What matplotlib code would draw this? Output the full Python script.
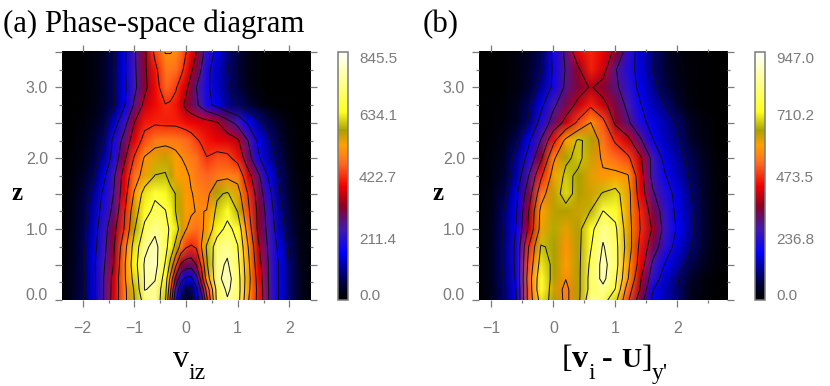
import matplotlib
matplotlib.use('Agg')
import matplotlib.pyplot as plt
import numpy as np
from matplotlib.colors import LinearSegmentedColormap, Normalize
from matplotlib.cm import ScalarMappable
from matplotlib.image import NonUniformImage
from matplotlib.ticker import FixedLocator

plt.rcParams['font.family'] = ['Liberation Sans', 'DejaVu Sans']

z = [0.0, 0.15, 0.3, 0.5, 0.75, 1.0, 1.25, 1.5, 1.75, 2.0, 2.25, 2.5, 2.75, 3.0, 3.25, 3.5]

# panel a, one row per z value
va = [-2.4, -2.2, -2.0, -1.8, -1.6, -1.4, -1.2, -1.0, -0.8, -0.6, -0.4, -0.3, -0.2, -0.1, 0.0,
      0.1, 0.2, 0.3, 0.4, 0.6, 0.8, 1.0, 1.2, 1.4, 1.6, 1.8, 2.0, 2.2, 2.4]
fa = [
    [8, 30, 72, 140, 250, 375, 480, 592, 715, 750, 600, 400, 190, 90, 20, 60, 130, 210, 400, 700, 755, 715, 515, 400, 254, 165, 85, 30, 8],
    [8, 30, 72, 145, 250, 370, 480, 600, 765, 745, 620, 440, 230, 120, 70, 80, 150, 280, 450, 705, 775, 720, 530, 400, 254, 165, 85, 30, 8],
    [8, 30, 72, 145, 250, 365, 490, 620, 765, 765, 640, 480, 320, 200, 150, 150, 220, 380, 540, 740, 790, 715, 540, 390, 250, 165, 85, 30, 8],
    [7, 28, 72, 150, 240, 340, 490, 640, 770, 790, 670, 570, 440, 330, 300, 290, 340, 440, 580, 740, 770, 700, 530, 370, 250, 165, 85, 28, 8],
    [6, 26, 70, 140, 225, 330, 470, 625, 745, 785, 700, 640, 570, 480, 430, 415, 430, 510, 600, 720, 745, 680, 510, 350, 240, 150, 75, 25, 6],
    [5, 25, 65, 130, 215, 315, 423, 585, 695, 745, 700, 665, 630, 560, 510, 485, 470, 495, 530, 640, 700, 650, 470, 320, 230, 125, 60, 20, 5],
    [4, 22, 60, 120, 195, 275, 410, 555, 650, 695, 680, 640, 590, 555, 530, 515, 505, 505, 510, 610, 650, 590, 440, 320, 215, 110, 50, 15, 4],
    [3, 18, 50, 105, 180, 255, 385, 515, 625, 665, 640, 615, 590, 550, 520, 510, 500, 490, 480, 580, 600, 540, 420, 300, 195, 95, 40, 12, 3],
    [2, 12, 35, 75, 150, 240, 370, 470, 540, 595, 600, 565, 530, 525, 520, 500, 480, 470, 460, 480, 490, 480, 370, 270, 160, 85, 30, 8, 2],
    [1, 7, 22, 55, 110, 195, 320, 430, 515, 545, 560, 545, 530, 510, 495, 485, 470, 445, 425, 445, 440, 400, 290, 180, 115, 70, 22, 6, 1],
    [1, 5, 15, 40, 85, 185, 280, 380, 445, 480, 485, 483, 480, 473, 465, 450, 430, 415, 400, 385, 375, 350, 254, 155, 100, 50, 15, 4, 1],
    [1, 3, 10, 25, 60, 135, 220, 338, 405, 415, 410, 410, 410, 403, 395, 388, 380, 375, 370, 345, 290, 230, 160, 105, 65, 30, 10, 3, 1],
    [1, 2, 6, 18, 42, 78, 160, 265, 360, 395, 420, 415, 400, 360, 320, 295, 270, 230, 190, 150, 100, 85, 50, 22, 8, 3, 1, 0, 0],
    [1, 2, 5, 16, 38, 80, 150, 235, 320, 395, 460, 450, 430, 395, 355, 305, 254, 220, 185, 130, 95, 60, 25, 8, 3, 1, 0, 0, 0],
    [1, 2, 5, 15, 38, 80, 155, 240, 325, 405, 480, 480, 470, 440, 400, 350, 305, 250, 190, 130, 90, 50, 20, 7, 3, 1, 0, 0, 0],
    [1, 2, 5, 15, 38, 78, 150, 245, 325, 440, 510, 510, 500, 465, 425, 385, 340, 280, 215, 150, 95, 55, 22, 8, 3, 1, 0, 0, 0],
]

# panel b
vb = [-1.2, -1.0, -0.8, -0.6, -0.4, -0.2, 0.0, 0.2, 0.4, 0.6, 0.8, 1.0, 1.2, 1.4,
      1.6, 1.8, 2.0, 2.2, 2.4, 2.6, 2.8]
fb = [
    [5, 30, 95, 185, 510, 700, 640, 545, 640, 830, 800, 690, 490, 330, 175, 135, 95, 30, 14, 5, 1],
    [5, 32, 95, 190, 510, 740, 625, 545, 640, 790, 830, 755, 520, 375, 195, 140, 95, 35, 16, 6, 1],
    [5, 35, 100, 200, 520, 730, 640, 570, 640, 790, 875, 775, 575, 390, 240, 150, 100, 45, 22, 7, 2],
    [5, 35, 105, 205, 500, 700, 650, 585, 640, 775, 880, 800, 590, 435, 270, 185, 130, 75, 38, 12, 3],
    [5, 35, 105, 205, 473, 670, 650, 575, 640, 750, 860, 790, 620, 450, 330, 235, 160, 105, 52, 16, 3],
    [5, 32, 100, 195, 395, 600, 655, 610, 640, 730, 830, 775, 610, 473, 370, 255, 180, 120, 58, 18, 3],
    [4, 28, 95, 180, 379, 590, 635, 640, 625, 665, 760, 730, 600, 465, 340, 245, 170, 115, 55, 16, 3],
    [4, 24, 75, 170, 335, 530, 630, 690, 640, 620, 670, 695, 605, 430, 295, 225, 165, 105, 50, 14, 3],
    [3, 18, 50, 130, 284, 460, 600, 680, 650, 610, 580, 590, 575, 420, 260, 195, 140, 90, 45, 12, 2],
    [2, 12, 40, 120, 215, 365, 555, 650, 680, 625, 555, 520, 490, 395, 260, 165, 125, 80, 38, 10, 2],
    [1, 8, 25, 80, 175, 290, 450, 590, 675, 640, 530, 465, 405, 300, 195, 140, 105, 50, 25, 7, 1],
    [1, 5, 15, 40, 100, 220, 320, 405, 490, 570, 500, 365, 300, 215, 165, 130, 90, 35, 15, 4, 1],
    [1, 4, 10, 30, 88, 170, 270, 335, 400, 460, 400, 340, 265, 195, 140, 100, 45, 15, 7, 2, 0],
    [1, 3, 7, 18, 50, 120, 205, 300, 345, 385, 350, 300, 240, 170, 115, 65, 30, 10, 4, 1, 0],
    [1, 2, 6, 16, 45, 95, 200, 290, 365, 460, 410, 290, 225, 160, 100, 55, 25, 9, 4, 1, 0],
    [1, 2, 5, 15, 40, 85, 210, 300, 440, 465, 430, 360, 240, 155, 100, 50, 22, 8, 4, 1, 0],
]

max_a = 845.5
max_b = 947.0
cbar_a = ['0.0', '211.4', '422.7', '634.1', '845.5']
cbar_b = ['0.0', '236.8', '473.5', '710.2', '947.0']

cmap = LinearSegmentedColormap.from_list('idl', [
    (0.0, '#000000'), (0.07, '#000040'), (0.19, '#0000ff'), (0.28, '#4018b0'),
    (0.33, '#601070'), (0.38, '#900020'), (0.46, '#f00000'), (0.55, '#ff6a20'),
    (0.625, '#ffa000'), (0.685, '#a8a000'), (0.76, '#ffff20'), (0.9, '#ffffa0'),
    (1.0, '#ffffff')])

W, H = 830.0, 386.0
GRAY = '#7a7a7a'


def panel(x0, x1, x2, xlim, xt, values, vmax, cb_labels):
    ax = fig.add_axes([x0 / W, 1 - 300 / H, (x1 - x0) / W, 248 / H])
    F = np.array(values, dtype=float)
    im = NonUniformImage(ax, cmap=cmap, norm=Normalize(0, vmax), interpolation='bilinear',
                         extent=(xlim[0], xlim[1], 0, 3.5))
    im.set_data(x2, z, F)
    ax.add_image(im)
    X, Y = np.meshgrid(x2, z)
    ax.contour(X, Y, F, levels=[vmax * k / 10 for k in range(1, 10)],
               colors='#101010', linewidths=0.7)
    ax.set_xlim(xlim)
    ax.set_ylim(0, 3.5)
    ax.set_xticks(xt)
    ax.set_xticklabels([str(t).replace('-', '\u2212') for t in xt])
    ax.xaxis.set_minor_locator(FixedLocator([t + 0.5 for t in range(-4, 4)]))
    ax.set_yticks([0, 0.5, 1, 1.5, 2, 2.5, 3, 3.5])
    ax.set_yticklabels(['0.0', '', '1.0', '', '2.0', '', '3.0', ''])
    ax.yaxis.set_minor_locator(FixedLocator(np.arange(0, 3.51, 0.25)))
    ax.tick_params(which='major', length=5, width=0.9, color=GRAY, labelcolor=GRAY,
                   labelsize=11.5, top=True, right=True)
    ax.tick_params(which='minor', length=2.5, width=0.9, color=GRAY, top=True, right=True)
    ax.tick_params(axis='x', which='major', pad=10)
    ax.tick_params(axis='y', which='major', pad=5)
    ax.get_yticklabels()[0].set_va('baseline')
    for s in ax.spines.values():
        s.set_visible(False)

    cx = x1 + 27.5
    cax = fig.add_axes([cx / W, 1 - 300 / H, 10.5 / W, 248 / H])
    cb = fig.colorbar(ScalarMappable(Normalize(0, vmax), cmap), cax=cax)
    cb.set_ticks([vmax * k / 4 for k in range(5)])
    cb.set_ticklabels(cb_labels)
    cb.outline.set_edgecolor(GRAY)
    cb.outline.set_linewidth(1.1)
    cax.tick_params(length=0, pad=8, labelsize=11, labelcolor=GRAY)
    labs = cax.get_yticklabels()
    labs[0].set_va('baseline')
    labs[-1].set_va('top')
    return ax


def label(x, y, s, size=21, weight='normal'):
    fig.text(x / W, 1 - y / H, s, family='Liberation Serif', fontsize=size, fontweight=weight,
             ha='left', va='baseline', color='black')


fig = plt.figure(figsize=(8.3, 3.86), dpi=100)
panel(62, 310, va, (-2.4, 2.4), [-2, -1, 0, 1, 2], fa, max_a, cbar_a)
panel(479, 727, vb, (-1.2, 2.8), [-1, 0, 1, 2], fb, max_b, cbar_b)

label(3, 32, '(a) Phase-space diagram', size=22.2)
label(423, 32, '(b)', size=22.2)
label(11.5, 200, 'z', size=18, weight='bold')
label(432.5, 200, 'z', size=18, weight='bold')

label(173, 367, 'v', size=23)
label(188, 379, 'iz', size=17)

label(562, 367, '[', size=23)
label(572, 367, 'v', size=23, weight='bold')
label(588, 379, 'i', size=17)
label(602, 367, '-', size=23, weight='bold')
label(621, 367, 'U', size=20, weight='bold')
label(642, 367, ']', size=23)
label(652, 379, "y'", size=17)

fig.savefig('out.png', dpi=100)
